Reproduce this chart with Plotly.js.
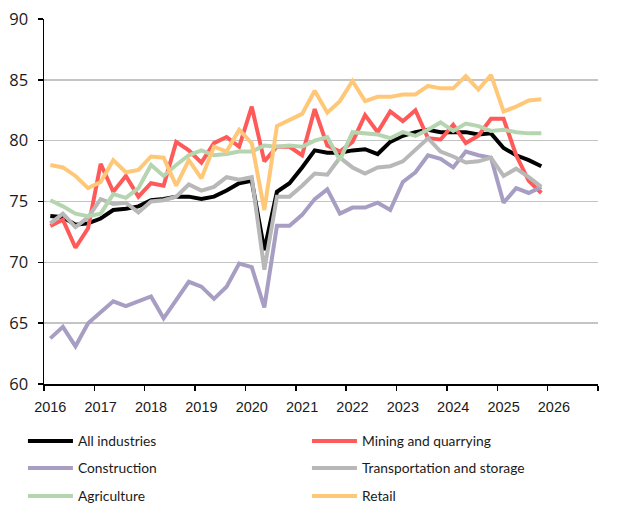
<!DOCTYPE html>
<html>
<head>
<meta charset="utf-8">
<script src="https://cdn.plot.ly/plotly-3.0.1.min.js"></script>
<style>html,body{margin:0;padding:0;background:#fff;}#chart{width:617px;height:508px;}</style>
</head>
<body>
<div id="chart"></div>
<script>
// Quarterly, 2016 Q1 .. 2025 Q4
const startYear = 2016;
const nQuarters = 40;
const yearTicks = [2016, 2017, 2018, 2019, 2020, 2021, 2022, 2023, 2024, 2025, 2026];

const allIndustries = [73.8, 73.7, 73.1, 73.2, 73.6, 74.3, 74.4, 74.6, 75.1, 75.2,
  75.4, 75.4, 75.2, 75.4, 75.9, 76.5, 76.7, 71.0, 75.8, 76.5,
  77.8, 79.2, 79.0, 79.0, 79.2, 79.3, 78.9, 79.9, 80.4, 80.7,
  80.9, 80.7, 80.7, 80.7, 80.5, 80.6, 79.4, 78.8, 78.4, 77.9];
const mining = [73.0, 73.5, 71.2, 72.8, 78.1, 75.8, 77.1, 75.4, 76.5, 76.3,
  79.9, 79.2, 78.2, 79.8, 80.3, 79.5, 82.8, 78.3, 79.5, 79.5,
  78.8, 82.6, 79.6, 79.1, 79.9, 82.1, 80.7, 82.4, 81.6, 82.5,
  80.2, 80.1, 81.3, 79.8, 80.4, 81.8, 81.8, 78.8, 76.7, 75.7];
const construction = [63.75, 64.7, 63.1, 65.0, 65.9, 66.8, 66.4, 66.8, 67.2, 65.4,
  66.9, 68.4, 68.0, 67.0, 68.0, 69.9, 69.6, 66.3, 73.0, 73.0,
  73.9, 75.2, 76.0, 74.0, 74.5, 74.5, 74.9, 74.3, 76.6, 77.4,
  78.8, 78.5, 77.8, 79.1, 78.8, 78.6, 74.9, 76.1, 75.7, 76.2];
const transport = [73.2, 74.0, 72.9, 73.7, 75.2, 74.8, 74.9, 74.1, 75.0, 75.1,
  75.4, 76.4, 75.9, 76.2, 77.0, 76.8, 77.0, 69.4, 75.4, 75.4,
  76.3, 77.3, 77.2, 78.6, 77.8, 77.3, 77.8, 77.9, 78.3, 79.3,
  80.2, 79.1, 78.7, 78.2, 78.3, 78.6, 77.1, 77.7, 77.0, 76.2];
const agriculture = [75.1, 74.6, 74.0, 73.8, 74.0, 75.6, 75.3, 76.1, 78.0, 77.1,
  78.0, 78.8, 79.2, 78.8, 78.9, 79.1, 79.1, 79.6, 79.5, 79.6,
  79.5, 80.0, 80.3, 78.4, 80.7, 80.6, 80.5, 80.2, 80.7, 80.4,
  80.9, 81.5, 80.8, 81.4, 81.2, 80.8, 80.9, 80.7, 80.6, 80.6];
const retail = [78.0, 77.8, 77.1, 76.1, 76.6, 78.4, 77.4, 77.6, 78.7, 78.6,
  76.3, 78.4, 76.9, 79.5, 79.1, 80.9, 79.8, 74.3, 81.2, 81.7,
  82.2, 84.1, 82.3, 83.25, 84.9, 83.25, 83.6, 83.6, 83.8, 83.8,
  84.5, 84.3, 84.3, 85.3, 84.2, 85.4, 82.4, 82.8, 83.3, 83.4];

const seriesNames = ["All industries", "Mining and quarrying", "Construction",
  "Transportation and storage", "Agriculture", "Retail"];
const seriesColors = ["#000000", "#ff5a5a", "#a89ec4", "#b8b8b8", "#b5d5b0", "#ffc878"];
const seriesData = [allIndustries, mining, construction, transport, agriculture, retail];
const legendIds = ["legend", "legend", "legend2", "legend2", "legend3", "legend3"];

// x positions: centre of each quarter on a year-based axis
const xq = [];
for (let i = 0; i < nQuarters; i++) xq.push(startYear + Math.floor(i / 4) + (i % 4) / 4 + 0.125);

const traces = seriesData.map((d, k) => ({
  type: "scatter", mode: "lines", x: xq, y: d, name: seriesNames[k],
  line: {color: seriesColors[k], width: 4},
  legend: legendIds[k], hoverinfo: "skip"
}));

const xFont = {family: "Liberation Sans, Arial, sans-serif", size: 14.5, color: "#1a1a1a"};
const yFont = {family: "Open Sans, Segoe UI, sans-serif", size: 16.5, color: "#1a1a1a"};
const legFont = {family: "Lato, sans-serif", size: 13.8, color: "#1a1a1a"};
function leg(y) {
  return {orientation: "h", x: -0.038, xanchor: "left", y: y, yanchor: "middle",
    entrywidth: 224, entrywidthmode: "pixels", font: legFont, itemwidth: 45,
    bgcolor: "rgba(0,0,0,0)", borderwidth: 0, traceorder: "normal"};
}

const layout = {
  width: 617, height: 508,
  margin: {l: 44, r: 19, t: 19, b: 124, autoexpand: false},
  paper_bgcolor: "#fff", plot_bgcolor: "#fff",
  showlegend: true,
  xaxis: {
    range: [2016, 2027], tickmode: "array",
    tickvals: yearTicks.map(v => v + 0.125), ticktext: yearTicks.map(String),
    ticks: "", showgrid: false, zeroline: false,
    showline: true, linecolor: "#000", linewidth: 1.5,
    tickfont: xFont, ticklabelstandoff: 9,
    minor: {tickmode: "linear", tick0: 2016, dtick: 1, ticks: "outside", ticklen: 5,
      tickcolor: "#000", tickwidth: 1.5, showgrid: false}
  },
  yaxis: {
    range: [60, 90], dtick: 5, tick0: 60,
    ticks: "outside", ticklen: 5, tickcolor: "#000", tickwidth: 1.5,
    showgrid: true, gridcolor: "#c4c4c4", gridwidth: 1.5, zeroline: false,
    showline: true, linecolor: "#000", linewidth: 1.5,
    tickfont: yFont, ticklabelstandoff: 6
  },
  legend: leg(-0.156),
  legend2: leg(-0.230),
  legend3: leg(-0.307)
};

Plotly.newPlot("chart", traces, layout, {displayModeBar: false, staticPlot: true});
</script>
</body>
</html>
